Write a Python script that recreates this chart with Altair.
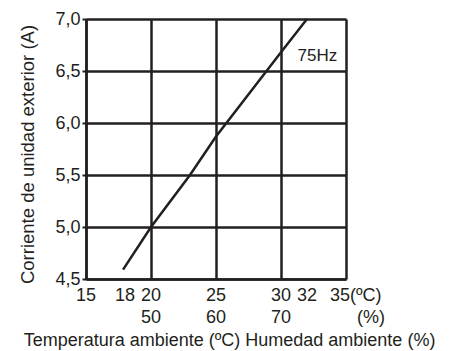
import altair as alt
import pandas as pd

# Data
line_temp = [17.85, 20.0, 23.0, 25.0, 30.0, 32.0]
line_current = [4.59, 5.0, 5.5, 5.87, 6.68, 7.0]

grid_temps = [15, 20, 25, 30, 35]
grid_currents = [4.5, 5.0, 5.5, 6.0, 6.5, 7.0]

temp_label_pos = [15, 18, 20, 25, 30, 32]
temp_label_text = ["15", "18", "20", "25", "30", "32"]
hum_label_pos = [20, 25, 30]
hum_label_text = ["50", "60", "70"]

curve_label = "75Hz"
curve_label_x = [32.8]
curve_label_y = [6.64]

FONT = "Liberation Sans"
INK = "#231f20"
FS = 18

line_df = pd.DataFrame({"t": line_temp, "a": line_current})
tl_df = pd.DataFrame({"t": temp_label_pos, "txt": temp_label_text})
hl_df = pd.DataFrame({"t": hum_label_pos, "txt": hum_label_text})
unit_df = pd.DataFrame({"t": [35], "c": ["35(ºC)"], "p": ["(%)"]})
cl_df = pd.DataFrame({"t": curve_label_x, "a": curve_label_y, "txt": [curve_label]})

xscale = alt.Scale(domain=[15, 35], nice=False, zero=False)
yscale = alt.Scale(domain=[4.5, 7.0], nice=False, zero=False)

base = alt.Chart(line_df)

line = base.mark_line(color=INK, strokeWidth=2.5).encode(
    x=alt.X("t:Q", scale=xscale, axis=alt.Axis(
        values=grid_temps, labels=False, ticks=False, domain=True,
        domainColor=INK, domainWidth=2.5,
        grid=True, gridColor=INK, gridWidth=2.5, gridOpacity=1,
        title="Temperatura ambiente (ºC) Humedad ambiente (%)",
        titleFont=FONT, titleFontSize=FS, titleFontWeight="normal", titleColor=INK,
        titleX=143, titleY=61, titleAlign="center", titleBaseline="middle",
    )),
    y=alt.Y("a:Q", scale=yscale, axis=alt.Axis(
        values=grid_currents, format=".1f",
        labelExpr="replace(datum.label, '.', ',')",
        labelFont=FONT, labelFontSize=FS, labelColor=INK, labelPadding=2,
        ticks=True, tickSize=4, tickWidth=2, tickColor=INK,
        domain=True, domainColor=INK, domainWidth=2.5,
        grid=True, gridColor=INK, gridWidth=2.5, gridOpacity=1,
        title="Corriente de unidad exterior (A)",
        titleFont=FONT, titleFontSize=FS + 0.5, titleFontWeight="normal", titleColor=INK,
        titleAngle=-90, titleX=-59, titleY=135, titleAlign="center", titleBaseline="middle",
    )),
)

row1 = alt.Chart(tl_df).mark_text(font=FONT, fontSize=FS, color=INK, baseline="middle", align="center").encode(
    x=alt.X("t:Q", scale=xscale), y=alt.value(277), text="txt:N")
row2 = alt.Chart(hl_df).mark_text(font=FONT, fontSize=FS, color=INK, baseline="middle", align="center").encode(
    x=alt.X("t:Q", scale=xscale), y=alt.value(299), text="txt:N")
unit1 = alt.Chart(unit_df).mark_text(font=FONT, fontSize=FS, color=INK, baseline="middle", align="left", dx=-16).encode(
    x=alt.X("t:Q", scale=xscale), y=alt.value(277), text="c:N")
unit2 = alt.Chart(unit_df).mark_text(font=FONT, fontSize=FS, color=INK, baseline="middle", align="center", dx=25).encode(
    x=alt.X("t:Q", scale=xscale), y=alt.value(299), text="p:N")
clabel = alt.Chart(cl_df).mark_text(font=FONT, fontSize=17, color=INK, baseline="middle", align="center").encode(
    x=alt.X("t:Q", scale=xscale), y=alt.Y("a:Q", scale=yscale), text="txt:N")

chart = alt.layer(line, row1, row2, unit1, unit2, clabel).properties(
    width=260, height=260,
    autosize=alt.AutoSizeParams(type="none"),
    padding={"left": 86, "top": 19, "right": 114, "bottom": 72},
    background="white",
).configure_view(stroke=None)

chart.save("out.html", embed_options={"renderer": "svg", "actions": False})
